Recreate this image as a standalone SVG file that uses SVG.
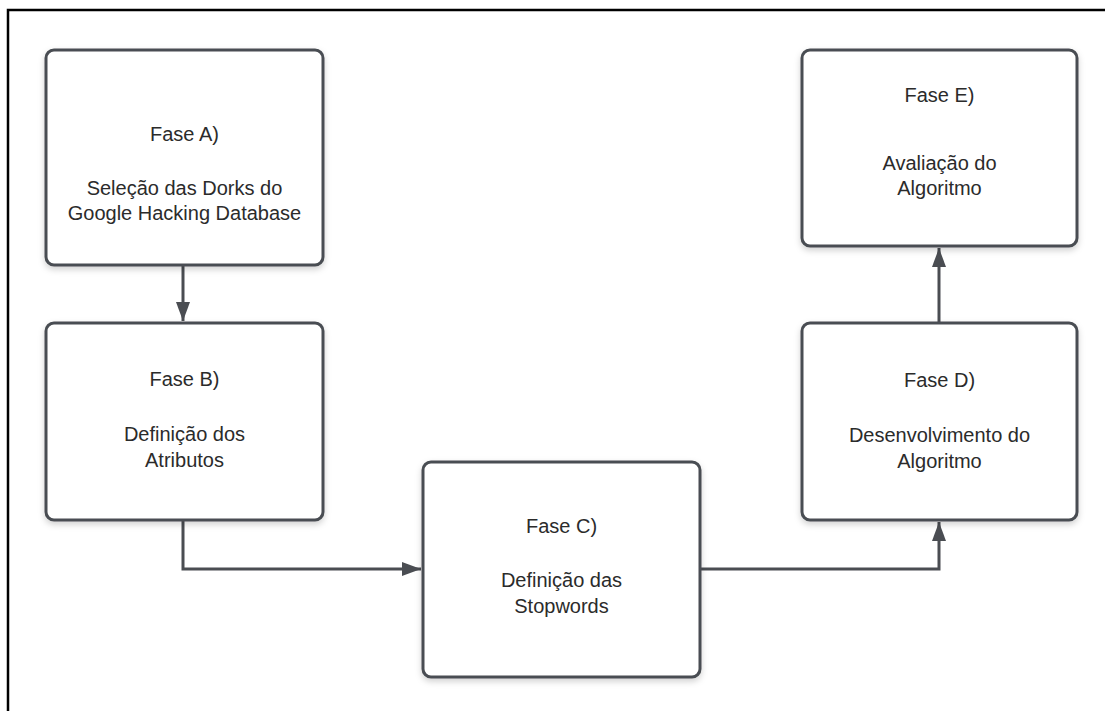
<svg xmlns="http://www.w3.org/2000/svg" width="1105" height="711" viewBox="0 0 1105 711">
<style>
.box{fill:#fff;stroke:#4a4d52;stroke-width:3;filter:url(#sh)}
.t{font-family:"Liberation Sans",Arial,sans-serif;font-size:20px;fill:#2b2b2b;text-anchor:middle}
.c{fill:none;stroke:#4a4d52;stroke-width:3}
</style>
<defs>
<filter id="sh" x="-10%" y="-10%" width="120%" height="130%">
<feDropShadow dx="0" dy="3" stdDeviation="3" flood-color="#000" flood-opacity="0.18"/>
</filter>
<marker id="ah" markerUnits="userSpaceOnUse" markerWidth="20" markerHeight="14" refX="19" refY="7" orient="auto">
<path d="M0,0 L19,7 L0,14 Z" fill="#4a4d52"/>
</marker>
</defs>
<rect width="1105" height="711" fill="#fff"/>
<path d="M8,711 V10 H1105" fill="none" stroke="#000" stroke-width="2.5"/>
<g id="connectors">
<path class="c" d="M183,266 V321" marker-end="url(#ah)"/>
<path class="c" d="M183,521 V569 H421" marker-end="url(#ah)"/>
<path class="c" d="M701,569 H939 V522" marker-end="url(#ah)"/>
<path class="c" d="M939,322 V248" marker-end="url(#ah)"/>
</g>
<g id="faseA">
<rect class="box" x="46" y="50" width="277" height="215" rx="8"/>
<text class="t" x="184.5" y="141">Fase A)</text>
<text class="t" x="184.5" y="195">Seleção das Dorks do</text>
<text class="t" x="184.5" y="220">Google Hacking Database</text>
</g>
<g id="faseB">
<rect class="box" x="46" y="323" width="277" height="197" rx="8"/>
<text class="t" x="184.5" y="386">Fase B)</text>
<text class="t" x="184.5" y="441">Definição dos</text>
<text class="t" x="184.5" y="467">Atributos</text>
</g>
<g id="faseC">
<rect class="box" x="423" y="462" width="277" height="215" rx="8"/>
<text class="t" x="561.5" y="533">Fase C)</text>
<text class="t" x="561.5" y="587">Definição das</text>
<text class="t" x="561.5" y="613">Stopwords</text>
</g>
<g id="faseD">
<rect class="box" x="802" y="323" width="275" height="197" rx="8"/>
<text class="t" x="939.5" y="387">Fase D)</text>
<text class="t" x="939.5" y="442">Desenvolvimento do</text>
<text class="t" x="939.5" y="468">Algoritmo</text>
</g>
<g id="faseE">
<rect class="box" x="802" y="50" width="275" height="196" rx="8"/>
<text class="t" x="939.5" y="102">Fase E)</text>
<text class="t" x="939.5" y="170">Avaliação do</text>
<text class="t" x="939.5" y="195">Algoritmo</text>
</g>
</svg>
